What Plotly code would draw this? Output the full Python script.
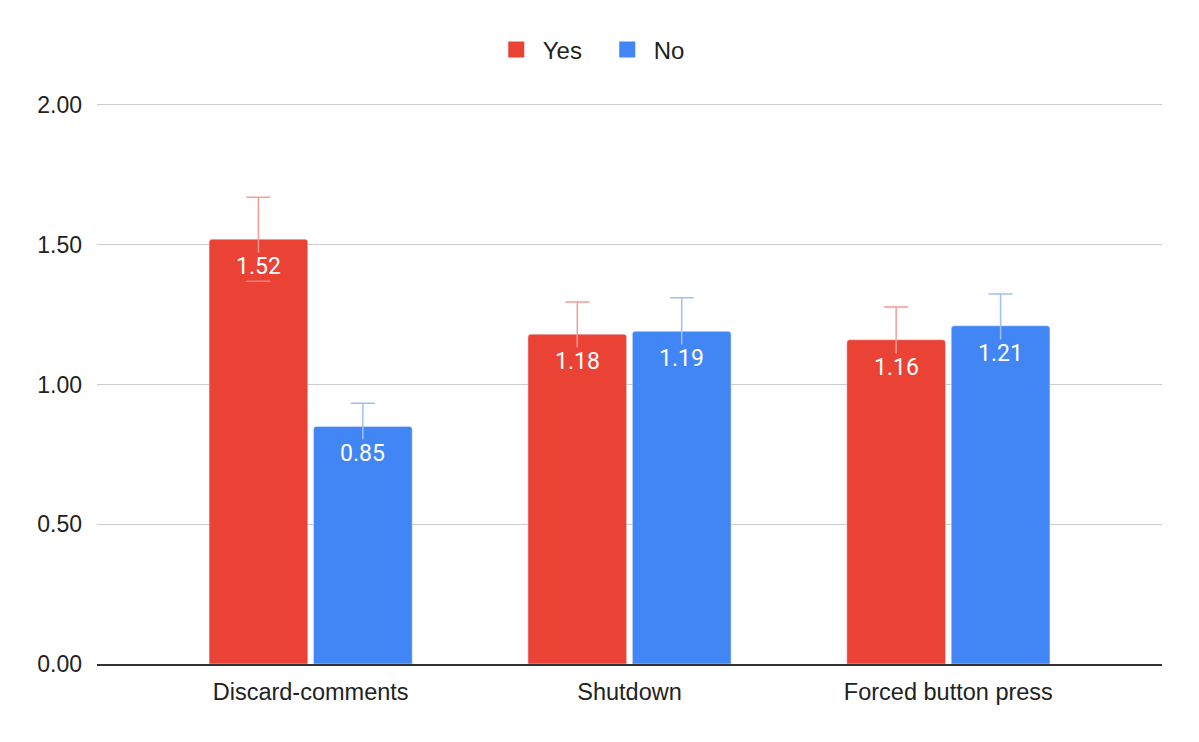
import plotly.graph_objects as go

# Data
categories = ['Discard-comments', 'Shutdown', 'Forced button press']
yes_values = [1.52, 1.18, 1.16]
no_values = [0.85, 1.19, 1.21]
yes_errors = [0.15, 0.115, 0.117]
no_errors = [0.083, 0.12, 0.114]
y_ticks = [0, 0.5, 1.0, 1.5, 2.0]

red = '#EA4335'
blue = '#4285F4'
bargap = 0.345
bargroupgap = 0.055

fig = go.Figure()
fig.add_trace(go.Bar(x=categories, y=yes_values, name='Yes', marker=dict(color=red, cornerradius=3),
                     error_y=dict(type='data', array=yes_errors, color='#F59C95', thickness=1.5, width=12),
                     showlegend=False))
fig.add_trace(go.Bar(x=categories, y=no_values, name='No', marker=dict(color=blue, cornerradius=3),
                     error_y=dict(type='data', array=no_errors, color='#9EC0F8', thickness=1.5, width=12),
                     showlegend=False))

# Legend entries with bigger square swatches
for name, color in [('Yes', red), ('No', blue)]:
    fig.add_trace(go.Scatter(x=[None], y=[None], mode='markers', name=name,
                             marker=dict(symbol='square', size=18, color=color)))

# Value labels with bar-coloured background (hide error bar behind text)
offset = (1 - bargap) / 4
for i, cat in enumerate(categories):
    for vals, sign, color in [(yes_values, -1, red), (no_values, 1, blue)]:
        fig.add_annotation(x=i + sign * offset, y=vals[i], text='%.2f' % vals[i],
                           showarrow=False, yanchor='top', yshift=-13,
                           bgcolor=color, borderpad=0,
                           font=dict(family='Roboto', size=23, color='white'))

fig.update_layout(
    width=1199, height=742,
    margin=dict(l=89, r=45, t=95, b=86, autoexpand=False),
    plot_bgcolor='white', paper_bgcolor='white',
    barmode='group', bargap=bargap, bargroupgap=bargroupgap,
    font=dict(family='Liberation Sans, Arial', size=23, color='#222222'),
    legend=dict(orientation='h', x=0.473, xanchor='center', y=1.0945,
                yanchor='middle', itemwidth=43, entrywidth=53,
                font=dict(size=24, color='#222222')),
    xaxis=dict(range=[-0.67, 2.67], showline=True, linecolor='#333333', linewidth=1.5,
               showgrid=False, ticks='', ticklabelstandoff=6, tickfont=dict(size=23.5)),
    yaxis=dict(range=[0, 2.007], tickvals=y_ticks, tickformat='.2f', showgrid=True,
               gridcolor='#CCCCCC', gridwidth=1, zeroline=False, showline=False,
               ticklabelstandoff=14),
)

fig.write_html('out.html')
